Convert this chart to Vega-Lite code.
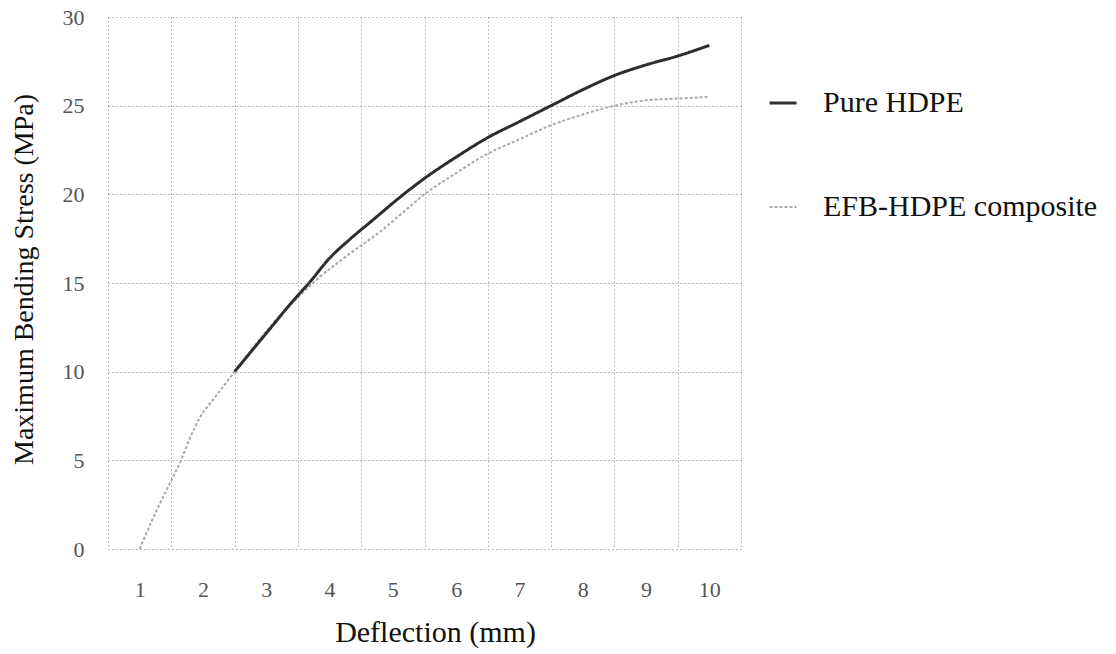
{
  "$schema": "https://vega.github.io/schema/vega-lite/v6.json",
  "autosize": "none",
  "width": 633,
  "height": 532,
  "padding": {"left": 108, "top": 17, "right": 375, "bottom": 105},
  "background": "white",
  "config": {
    "view": {"stroke": null},
    "font": "Liberation Serif"
  },
  "data": {
    "values": [
      {"series": "EFB-HDPE composite", "x": 1.0, "y": 0.0},
      {"series": "EFB-HDPE composite", "x": 1.27, "y": 2.2},
      {"series": "EFB-HDPE composite", "x": 1.45, "y": 3.5},
      {"series": "EFB-HDPE composite", "x": 1.64, "y": 4.9},
      {"series": "EFB-HDPE composite", "x": 1.8, "y": 6.3},
      {"series": "EFB-HDPE composite", "x": 1.95, "y": 7.4},
      {"series": "EFB-HDPE composite", "x": 2.2, "y": 8.6},
      {"series": "EFB-HDPE composite", "x": 2.5, "y": 10.0},
      {"series": "EFB-HDPE composite", "x": 2.8, "y": 11.4},
      {"series": "EFB-HDPE composite", "x": 3.1, "y": 12.7},
      {"series": "EFB-HDPE composite", "x": 3.45, "y": 14.0},
      {"series": "EFB-HDPE composite", "x": 3.8, "y": 15.2},
      {"series": "EFB-HDPE composite", "x": 4.3, "y": 16.6},
      {"series": "EFB-HDPE composite", "x": 4.8, "y": 17.9},
      {"series": "EFB-HDPE composite", "x": 5.2, "y": 19.1},
      {"series": "EFB-HDPE composite", "x": 5.5, "y": 20.0},
      {"series": "EFB-HDPE composite", "x": 6.0, "y": 21.2},
      {"series": "EFB-HDPE composite", "x": 6.5, "y": 22.3},
      {"series": "EFB-HDPE composite", "x": 7.0, "y": 23.1},
      {"series": "EFB-HDPE composite", "x": 7.5, "y": 23.9},
      {"series": "EFB-HDPE composite", "x": 8.0, "y": 24.5},
      {"series": "EFB-HDPE composite", "x": 8.5, "y": 25.0},
      {"series": "EFB-HDPE composite", "x": 9.0, "y": 25.3},
      {"series": "EFB-HDPE composite", "x": 9.5, "y": 25.4},
      {"series": "EFB-HDPE composite", "x": 10.0, "y": 25.5},
      {"series": "Pure HDPE", "x": 2.5, "y": 10.0},
      {"series": "Pure HDPE", "x": 2.8, "y": 11.3},
      {"series": "Pure HDPE", "x": 3.1, "y": 12.6},
      {"series": "Pure HDPE", "x": 3.4, "y": 13.9},
      {"series": "Pure HDPE", "x": 3.7, "y": 15.1},
      {"series": "Pure HDPE", "x": 4.0, "y": 16.4},
      {"series": "Pure HDPE", "x": 4.3, "y": 17.4},
      {"series": "Pure HDPE", "x": 4.7, "y": 18.6},
      {"series": "Pure HDPE", "x": 5.1, "y": 19.8},
      {"series": "Pure HDPE", "x": 5.5, "y": 20.9},
      {"series": "Pure HDPE", "x": 6.0, "y": 22.1},
      {"series": "Pure HDPE", "x": 6.5, "y": 23.2},
      {"series": "Pure HDPE", "x": 7.0, "y": 24.1},
      {"series": "Pure HDPE", "x": 7.5, "y": 25.0},
      {"series": "Pure HDPE", "x": 8.0, "y": 25.9},
      {"series": "Pure HDPE", "x": 8.5, "y": 26.7},
      {"series": "Pure HDPE", "x": 9.0, "y": 27.3},
      {"series": "Pure HDPE", "x": 9.5, "y": 27.8},
      {"series": "Pure HDPE", "x": 10.0, "y": 28.4}
    ]
  },
  "encoding": {
    "x": {
      "field": "x",
      "type": "quantitative",
      "scale": {"domain": [0.5, 10.5], "nice": false, "zero": false},
      "axis": {
        "values": [0.5, 1, 1.5, 2, 2.5, 3, 3.5, 4, 4.5, 5, 5.5, 6, 6.5, 7, 7.5, 8, 8.5, 9, 9.5, 10, 10.5],
        "labelExpr": "datum.value % 1 === 0 ? '' + datum.value : ''",
        "gridOpacity": {"condition": {"test": "datum.value % 1 === 0", "value": 0}, "value": 1},
        "gridColor": "#7a7a7a",
        "gridDash": [1, 3],
        "gridWidth": 1,
        "ticks": false,
        "domain": false,
        "labelFont": "Liberation Serif",
        "labelFontSize": 22,
        "labelColor": "#555555",
        "labelPadding": 30,
        "labelFlush": false,
        "title": "Deflection (mm)",
        "titleFont": "Liberation Serif",
        "titleFontSize": 30,
        "titleFontWeight": "normal",
        "titleColor": "#111111",
        "titleX": 327,
        "titleY": 83,
        "titleAlign": "center",
        "titleBaseline": "middle"
      }
    },
    "y": {
      "field": "y",
      "type": "quantitative",
      "scale": {"domain": [0, 30], "nice": false},
      "axis": {
        "values": [0, 5, 10, 15, 20, 25, 30],
        "gridColor": "#7a7a7a",
        "gridDash": [1, 3],
        "gridWidth": 1,
        "ticks": false,
        "domain": false,
        "labelFont": "Liberation Serif",
        "labelFontSize": 22,
        "labelColor": "#555555",
        "labelPadding": 24,
        "labelFlush": false,
        "title": "Maximum Bending Stress (MPa)",
        "titleFont": "Liberation Serif",
        "titleFontSize": 28,
        "titleFontWeight": "normal",
        "titleColor": "#111111",
        "titleAngle": -90,
        "titleX": -84,
        "titleY": 262,
        "titleAlign": "center",
        "titleBaseline": "middle"
      }
    },
    "color": {
      "field": "series",
      "type": "nominal",
      "scale": {"domain": ["Pure HDPE", "EFB-HDPE composite"], "range": ["#2e2e2e", "#a9a9a9"]},
      "legend": {
        "title": null,
        "orient": "none",
        "legendX": 660,
        "legendY": 71,
        "padding": 0,
        "symbolType": "stroke",
        "symbolSize": 729,
        "labelFont": "Liberation Serif",
        "labelFontSize": 30,
        "labelColor": "#111111",
        "labelOffset": 25,
        "rowPadding": 74,
        "labelLimit": 400
      }
    },
    "strokeWidth": {
      "field": "series",
      "type": "nominal",
      "scale": {"domain": ["Pure HDPE", "EFB-HDPE composite"], "range": [3, 2]}
    },
    "strokeDash": {
      "field": "series",
      "type": "nominal",
      "scale": {"domain": ["Pure HDPE", "EFB-HDPE composite"], "range": [[1, 0], [3, 2]]}
    }
  },
  "layer": [
    {
      "transform": [{"filter": "datum.series === 'EFB-HDPE composite'"}],
      "mark": {"type": "line", "interpolate": "monotone"}
    },
    {
      "transform": [{"filter": "datum.series === 'Pure HDPE'"}],
      "mark": {"type": "line", "interpolate": "monotone"}
    }
  ]
}
